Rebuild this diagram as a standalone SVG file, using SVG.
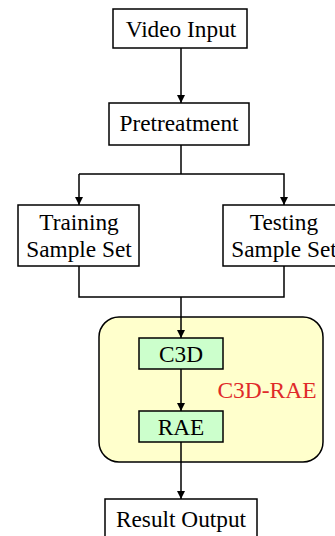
<svg xmlns="http://www.w3.org/2000/svg" width="335" height="536" viewBox="0 0 335 536">
<defs>
<style>
.box{fill:#ffffff;stroke:#000;stroke-width:1.5}
.gbox{fill:#ccffcc;stroke:#000;stroke-width:1.5}
.t{font-family:"Liberation Serif","Times New Roman",serif;font-size:23.3px;fill:#000;text-anchor:middle}
.ln{fill:none;stroke:#000;stroke-width:1.5}
</style>
<marker id="ah" viewBox="0 0 10 10" refX="10" refY="5" markerWidth="8" markerHeight="8" markerUnits="userSpaceOnUse" orient="auto">
<path d="M0,0 L10,5 L0,10 z" fill="#000"/>
</marker>
</defs>
<g id="c3d-rae">
<rect x="99" y="317" width="224" height="145" rx="20" ry="20" fill="#ffffcc" stroke="#000" stroke-width="1.5"/>
<text x="267" y="398" style="font-family:'Liberation Serif','Times New Roman',serif;font-size:23.5px;fill:#e02a2a;text-anchor:middle">C3D-RAE</text>
</g>
<g id="connectors">
<line class="ln" x1="181" y1="48" x2="181" y2="103" marker-end="url(#ah)"/>
<line class="ln" x1="181" y1="145" x2="181" y2="174"/>
<polyline class="ln" points="79,174 284,174 284,205" marker-end="url(#ah)"/>
<path class="ln" d="M79,174 L79,205" marker-end="url(#ah)"/>
<polyline class="ln" points="79,266 79,297 284,297 284,266"/>
<line class="ln" x1="181" y1="297" x2="181" y2="338" marker-end="url(#ah)"/>
<line class="ln" x1="181" y1="369" x2="181" y2="411" marker-end="url(#ah)"/>
<line class="ln" x1="181" y1="442" x2="181" y2="499" marker-end="url(#ah)"/>
</g>
<g id="video-input">
<rect class="box" x="113" y="9" width="134" height="39"/>
<text class="t" x="181" y="37">Video Input</text>
</g>
<g id="pretreatment">
<rect class="box" x="109" y="103" width="140" height="42"/>
<text class="t" x="179" y="131">Pretreatment</text>
</g>
<g id="training">
<rect class="box" x="18" y="205" width="121" height="61"/>
<text class="t" x="79" y="230">Training</text>
<text class="t" x="79" y="257">Sample Set</text>
</g>
<g id="testing">
<rect class="box" x="223" y="205" width="121" height="61"/>
<text class="t" x="284" y="230">Testing</text>
<text class="t" x="284" y="257">Sample Set</text>
</g>
<g id="c3d">
<rect class="gbox" x="139" y="338" width="84" height="31"/>
<text class="t" x="181" y="362">C3D</text>
</g>
<g id="rae">
<rect class="gbox" x="139" y="411" width="84" height="31"/>
<text class="t" x="181" y="435">RAE</text>
</g>
<g id="result-output">
<rect class="box" x="105" y="499" width="152" height="40"/>
<text class="t" x="181" y="527">Result Output</text>
</g>
</svg>
